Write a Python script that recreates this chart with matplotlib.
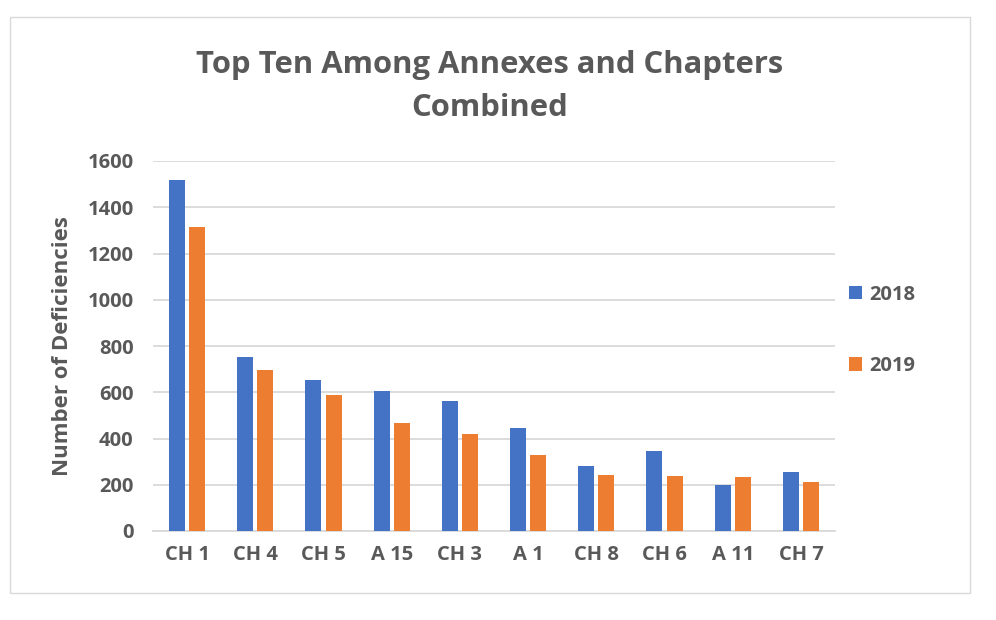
import matplotlib
matplotlib.use("Agg")
import matplotlib.pyplot as plt
import matplotlib.patches as patches
import numpy as np

categories = ["CH 1", "CH 4", "CH 5", "A 15", "CH 3", "A 1", "CH 8", "CH 6", "A 11", "CH 7"]
values_2018 = [1517, 753, 651, 607, 564, 446, 282, 348, 197, 253]
values_2019 = [1313, 698, 590, 469, 421, 327, 243, 239, 235, 214]
series_labels = ["2018", "2019"]

plt.rcParams["font.family"] = ["Open Sans", "DejaVu Sans"]
text_color = "#595959"

fig = plt.figure(figsize=(9.96, 6.2), dpi=100)
ax = fig.add_axes([153 / 996, 89 / 620, 682 / 996, 370 / 620])

x = np.arange(len(categories))
bar_w = 0.235
ax.bar(x - 0.147, values_2018, width=bar_w, color="#4472C4", label=series_labels[0], zorder=3)
ax.bar(x + 0.147, values_2019, width=bar_w, color="#ED7D31", label=series_labels[1], zorder=3)

ax.set_xlim(-0.5, len(categories) - 0.5)
ax.set_ylim(0, 1600)
ax.set_yticks(range(0, 1601, 200))
ax.yaxis.grid(True, color="#d9d9d9", linewidth=1.3, zorder=0)
ax.set_axisbelow(True)
for side in ["top", "right", "left"]:
    ax.spines[side].set_visible(False)
ax.spines["bottom"].set_color("#d9d9d9")
ax.spines["bottom"].set_linewidth(1.3)
ax.tick_params(length=0, labelsize=14.5, labelcolor=text_color)
ax.tick_params(axis="x", pad=10)
ax.tick_params(axis="y", pad=14)
ax.set_xticks(x)
ax.set_xticklabels(categories, fontweight="bold")
for lbl in ax.get_yticklabels():
    lbl.set_fontweight("bold")

ax.set_ylabel("Number of Deficiencies", fontsize=16, fontweight="bold", color=text_color, labelpad=10)

fig.text(0.492, 0.895, "Top Ten Among Annexes and Chapters", ha="center", va="center",
         fontsize=22.3, fontweight="bold", color=text_color)
fig.text(0.492, 0.826, "Combined", ha="center", va="center",
         fontsize=22.3, fontweight="bold", color=text_color)

# legend at the right of the plot
handles, labels = ax.get_legend_handles_labels()
leg = fig.legend(handles, labels, loc="center left", bbox_to_anchor=(831 / 996, 0.467),
                 frameon=False, handlelength=0.65, handleheight=0.65, handletextpad=0.35,
                 labelspacing=2.55, prop={"weight": "bold", "size": 14.5})
for t in leg.get_texts():
    t.set_color(text_color)

# outer chart border
fig.patches.append(patches.Rectangle((10 / 996, 27 / 620), 960 / 996, 576 / 620,
                                     transform=fig.transFigure, fill=False,
                                     edgecolor="#d9d9d9", linewidth=1))

fig.savefig("out.png", dpi=100)
